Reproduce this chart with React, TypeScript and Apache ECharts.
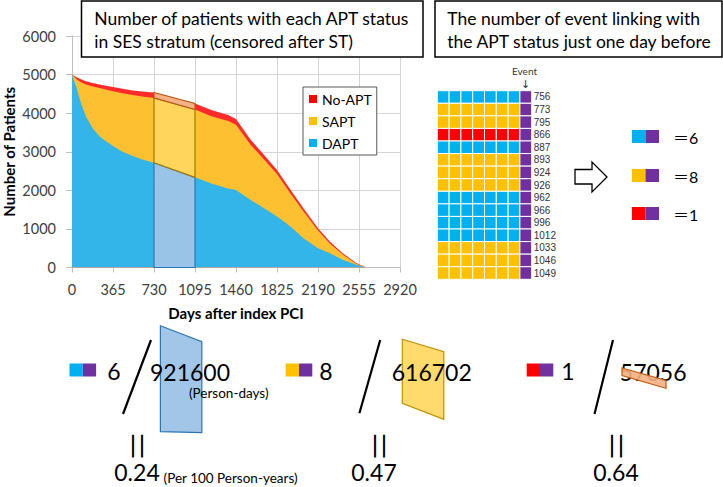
import React, { useEffect, useRef } from 'react';
import * as echarts from 'echarts';

// ---- Stacked area data (patients by APT status, SES stratum) ----
const days = [0, 40, 80, 125, 185, 245, 290, 365, 450, 540, 625, 730, 820, 910, 1000, 1095, 1240, 1390, 1460, 1590, 1710, 1825, 1945, 2060, 2190, 2295, 2410, 2530, 2590, 2620];
const dapt = [5000, 4660, 4260, 3910, 3600, 3400, 3300, 3150, 3000, 2890, 2800, 2715, 2620, 2525, 2430, 2336, 2180, 2050, 2010, 1750, 1535, 1320, 1060, 760, 500, 372, 200, 70, 25, 0];
const sapt = [0, 220, 540, 830, 1090, 1250, 1320, 1420, 1515, 1580, 1630, 1680, 1700, 1720, 1740, 1759, 1740, 1745, 1690, 1430, 1265, 1105, 860, 695, 460, 248, 137, 29, 5, 0];
const noApt = [0, 50, 80, 90, 90, 90, 95, 110, 120, 120, 130, 140, 145, 150, 150, 155, 160, 160, 150, 130, 118, 105, 92, 82, 60, 52, 35, 15, 10, 0];
const periodStart = 730;
const periodEnd = 1095;

// ---- Event table ----
const eventDays = [756, 773, 795, 866, 887, 893, 924, 926, 962, 966, 996, 1012, 1033, 1046, 1049];
const statusBefore = ['DAPT', 'SAPT', 'SAPT', 'No-APT', 'DAPT', 'SAPT', 'SAPT', 'SAPT', 'DAPT', 'DAPT', 'DAPT', 'DAPT', 'SAPT', 'SAPT', 'SAPT'];
const tableColumns = ['1', '2', '3', '4', '5', '6', '7', 'Event'];

// ---- Summary ----
const summaryStatus = ['DAPT', 'SAPT', 'No-APT'];
const eventCounts = [6, 8, 1];
const personDays = [921600, 616702, 57056];
const ratesPer100PY = ['0.24', '0.47', '0.64'];

const statusColor: Record<string, string> = { DAPT: '#00B0F0', SAPT: '#FFC000', 'No-APT': '#FF0000', Event: '#7030A0' };
const areaColor: Record<string, string> = { DAPT: '#33B5EA', SAPT: '#FDC030', 'No-APT': '#FF2B2B' };
const FONT = 'Lato';

function text(t: string, x: number, y: number, o: any = {}) {
  return {
    type: 'text', x, y, z: 100, rotation: o.rotation || 0, scaleX: o.scaleX || 1, scaleY: o.scaleY || 1,
    style: {
      text: t, fill: o.fill || '#000', fontSize: o.size || 16, fontFamily: o.family || FONT,
      fontWeight: o.weight || 'normal', align: o.align || 'left', verticalAlign: 'middle',
      textAlign: o.align || 'left', textVerticalAlign: 'middle',
    },
  };
}
function rect(x: number, y: number, w: number, h: number, fill: string, o: any = {}) {
  return { type: 'rect', z: o.z || 100, shape: { x, y, width: w, height: h }, style: { fill, stroke: o.stroke || null, lineWidth: o.lineWidth || 0 } };
}
function poly(points: number[][], fill: string, stroke: string, z = 101) {
  return { type: 'polygon', z, shape: { points }, style: { fill, stroke, lineWidth: 1.2 } };
}

export default function App() {
  const ref = useRef<HTMLDivElement>(null);
  useEffect(() => {
    if (!ref.current) return;
    const chart = echarts.init(ref.current, null, { renderer: 'svg' });

    const i0 = days.indexOf(periodStart);
    const i1 = days.indexOf(periodEnd);
    // cumulative tops of the stacked areas
    const topDapt = dapt.slice();
    const topSapt = dapt.map((v, i) => v + sapt[i]);
    const topAll = topSapt.map((v, i) => v + noApt[i]);

    const cellData: any[] = [];
    eventDays.forEach((_, r) => {
      for (let c = 0; c < tableColumns.length; c++) {
        cellData.push([c, r, c === tableColumns.length - 1 ? 'Event' : statusBefore[r]]);
      }
    });

    const graphic: any[] = [];
    // title boxes
    graphic.push(rect(81.5, 1, 341.5, 56, '#fff', { stroke: '#000', lineWidth: 1.5 }));
    graphic.push(text('Number of patients with each APT status', 94.3, 18.3, { size: 17.5 }));
    graphic.push(text('in SES stratum (censored after ST)', 94.3, 41.7, { size: 17.5 }));
    graphic.push(rect(435, 1, 287, 56, '#fff', { stroke: '#000', lineWidth: 1.5 }));
    graphic.push(text('The number of event linking with', 447.3, 18.3, { size: 17.5 }));
    graphic.push(text('the APT status just one day before', 447.3, 41.7, { size: 17.5 }));
    // event header
    graphic.push(text('Event', 524.5, 70.7, { size: 10, align: 'center', fill: '#333' }));
    graphic.push(text('↓', 525.5, 84, { size: 11, align: 'center', family: 'DejaVu Sans', fill: '#333' }));
    // outline arrow
    graphic.push({
      type: 'polygon', z: 100,
      shape: { points: [[575, 169.5], [592, 169.5], [592, 162], [607, 177], [592, 192], [592, 184], [575, 184]] },
      style: { fill: '#fff', stroke: '#000', lineWidth: 1.3 },
    });
    // right legend
    const legY = [130, 169, 207];
    summaryStatus.forEach((s, i) => {
      graphic.push(rect(632, legY[i], 13.5, 13, statusColor[s]));
      graphic.push(rect(645.5, legY[i], 13.5, 13, statusColor.Event));
      graphic.push(text('＝' + eventCounts[i], 673, legY[i] + 7, { size: 16, family: 'Lato, "Noto Sans CJK JP"' }));
    });

    // bottom formulas
    const sqX = [69.5, 285.7, 526.7];
    const cntX = [114, 326, 568];
    const slash = [[123, 414, 151, 340], [359.4, 413.3, 380.2, 340], [594.5, 414, 613, 340]];
    const numX = [150, 391.7, 619.8];
    const eqX = [135, 377, 614];
    const rateX = [137, 374, 616];
    graphic.push(poly([[160.4, 325.7], [201.8, 341.7], [201.8, 432.7], [160.4, 431.7]], 'rgba(157,195,230,0.95)', '#2E75B6', 99));
    graphic.push(poly([[402.3, 339.3], [443.8, 351.7], [443.8, 419.3], [402.3, 403.3]], 'rgba(255,217,102,0.95)', '#BF9000', 99));
    summaryStatus.forEach((s, i) => {
      graphic.push(rect(sqX[i], 363.5, 13.3, 13, statusColor[s]));
      graphic.push(rect(sqX[i] + 13.3, 363.5, 13.3, 13, statusColor.Event));
      graphic.push(text(String(eventCounts[i]), cntX[i], 371, { size: 23, align: 'center' }));
      graphic.push({ type: 'line', z: 100, shape: { x1: slash[i][0], y1: slash[i][1], x2: slash[i][2], y2: slash[i][3] }, style: { stroke: '#000', lineWidth: 2.2 } });
      graphic.push(text(String(personDays[i]), numX[i], 372, { size: 23 }));
      graphic.push(text('＝', eqX[i], 446, { size: 22, weight: 300, align: 'center', family: '"Noto Sans CJK JP"', rotation: Math.PI / 2, scaleX: 1.4, scaleY: 1.8 }));
      graphic.push(text(ratesPer100PY[i], rateX[i], 471.5, { size: 23, align: 'center' }));
    });
    graphic.push(poly([[622, 368], [666, 380.5], [666, 388.3], [622, 375.5]], 'rgba(244,177,131,0.9)', '#C55A11', 102));
    graphic.push(text('(Person-days)', 189, 392.7, { size: 13.5 }));
    graphic.push(text('(Per 100 Person-years)', 163.6, 478.3, { size: 13.5 }));

    const pair = (arr: number[]) => days.map((d, i) => [d, arr[i]]);
    const axisGray = '#bfbfbf';
    const gridGray = '#d4d4d4';
    const areaSeries = (name: string, arr: number[]) => ({
      name, type: 'line', data: pair(arr), symbol: 'none', showSymbol: false,
      lineStyle: { width: 0 }, areaStyle: { color: areaColor[name], opacity: 1 },
      itemStyle: { color: statusColor[name] }, z: 2,
    });

    chart.setOption({
      animation: false,
      backgroundColor: '#fff',
      grid: [
        { left: 69.2, right: 323, top: 36, bottom: 219.5 },
        { left: 437.3, top: 90.7, width: 94.4, height: 188.6 },
      ],
      legend: {
        data: ['No-APT', 'SAPT', 'DAPT'], orient: 'vertical', left: 303, top: 87,
        padding: [5, 5, 5, 6], itemGap: 8, itemWidth: 8, itemHeight: 8, icon: 'rect',
        borderColor: '#595959', borderWidth: 1, backgroundColor: '#fff', selectedMode: false, z: 10,
        textStyle: { fontFamily: FONT, fontSize: 14, color: '#000' },
      },
      xAxis: [
        {
          type: 'value', gridIndex: 0, min: 0, max: 2920, interval: 365,
          name: 'Days after index PCI', nameLocation: 'middle', nameGap: 38,
          nameTextStyle: { fontFamily: FONT, fontWeight: 'bold', fontSize: 15, color: '#000' },
          axisLine: { show: true, lineStyle: { color: axisGray } },
          axisTick: { show: true, length: 5, lineStyle: { color: axisGray } },
          axisLabel: { fontFamily: FONT, fontSize: 14.5, color: '#404040', margin: 14, formatter: (v: number) => String(v) },
          splitLine: { show: true, lineStyle: { color: gridGray } },
        },
        { type: 'category', gridIndex: 1, data: tableColumns, show: false },
      ],
      yAxis: [
        {
          type: 'value', gridIndex: 0, min: 0, max: 6000, interval: 1000,
          name: 'Number of Patients', nameLocation: 'middle', nameGap: 56, nameRotate: 90,
          nameTextStyle: { fontFamily: FONT, fontWeight: 'bold', fontSize: 15, color: '#000' },
          axisLine: { show: true, lineStyle: { color: axisGray } },
          axisTick: { show: true, length: 6, lineStyle: { color: axisGray } },
          axisLabel: { fontFamily: FONT, fontSize: 14.5, color: '#404040', margin: 16, formatter: (v: number) => String(v) },
          splitLine: { show: true, lineStyle: { color: gridGray } },
        },
        {
          type: 'category', gridIndex: 1, data: eventDays.map(String), inverse: true, position: 'right',
          axisLine: { show: false }, axisTick: { show: false }, splitLine: { show: false },
          axisLabel: { interval: 0, fontFamily: 'Liberation Sans', fontSize: 10, color: '#333', margin: 2 },
        },
      ],
      series: [
        areaSeries('No-APT', topAll),
        areaSeries('SAPT', topSapt),
        areaSeries('DAPT', topDapt),
        {
          type: 'custom', xAxisIndex: 0, yAxisIndex: 0, z: 5, silent: true,
          data: [[periodStart, 0]],
          encode: { x: 0, y: 1 },
          renderItem: (params: any, api: any) => {
            const d0 = topDapt[i0], d1 = topDapt[i1];
            const s0 = topSapt[i0], s1 = topSapt[i1];
            const t0 = topAll[i0], t1 = topAll[i1];
            const c = (x: number, y: number) => api.coord([x, y]);
            const a = periodStart, b = periodEnd;
            return {
              type: 'group',
              children: [
                { type: 'polygon', shape: { points: [c(a, 0), c(b, 0), c(b, d1), c(a, d0)] }, style: { fill: 'rgba(160,196,232,0.95)', stroke: '#2E75B6', lineWidth: 1.2 } },
                { type: 'polygon', shape: { points: [c(a, d0), c(b, d1), c(b, s1), c(a, s0)] }, style: { fill: 'rgba(255,217,102,0.8)', stroke: '#A07C00', lineWidth: 1.2 } },
                { type: 'polygon', shape: { points: [c(a, s0), c(b, s1), c(b, t1), c(a, t0)] }, style: { fill: '#F4B183', stroke: '#B85C1A', lineWidth: 1.2 } },
              ],
            };
          },
        },
        {
          type: 'custom', xAxisIndex: 1, yAxisIndex: 1, silent: true,
          data: cellData.map((d) => [d[0], d[1]]),
          encode: { x: 0, y: 1 },
          renderItem: (params: any, api: any) => {
            const p = api.coord([api.value(0), api.value(1)]);
            const s = api.size([1, 1]);
            const st = cellData[params.dataIndex][2];
            return {
              type: 'rect',
              shape: { x: p[0] - s[0] / 2, y: p[1] - s[1] / 2, width: s[0], height: s[1] },
              style: { fill: statusColor[st], stroke: '#fff', lineWidth: 1 },
            };
          },
        },
      ],
      graphic: { elements: graphic },
    });
    return () => chart.dispose();
  }, []);
  return <div ref={ref} style={{ position: 'fixed', left: 0, top: 0, width: 723, height: 487, background: '#fff' }} />;
}
